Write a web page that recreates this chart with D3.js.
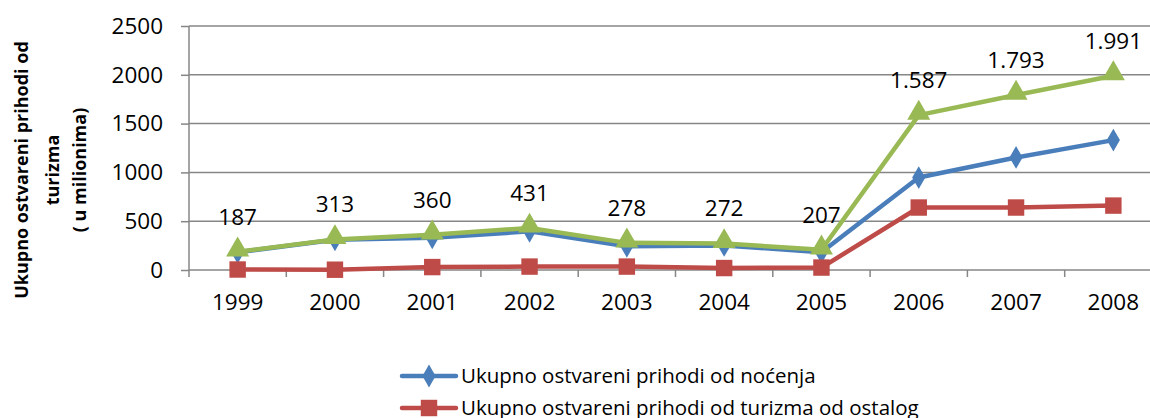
<!DOCTYPE html>
<html>
<head>
<meta charset="utf-8">
<style>
  html, body { margin: 0; padding: 0; background: #fff; overflow: hidden; }
  text { font-family: "Open Sans", "Noto Sans", sans-serif; fill: #000; }
</style>
<script src="https://cdn.jsdelivr.net/npm/d3@7"></script>
</head>
<body>
<script>
var years = ["1999","2000","2001","2002","2003","2004","2005","2006","2007","2008"];
var nocenja = [182, 310, 330, 396, 243, 252, 182, 947, 1153, 1331];
var ostalo  = [5, 3, 30, 35, 35, 20, 25, 640, 640, 660];
var ukupno  = [187, 313, 360, 431, 278, 272, 207, 1587, 1793, 1991];
var yTicks  = [0, 500, 1000, 1500, 2000, 2500];
var legendNames = ["Ukupno ostvareni prihodi od noćenja",
                   "Ukupno ostvareni prihodi od turizma od ostalog"];

var W = 1150, H = 418;
var pLeft = 189, pRight = 1162, pTop = 26, pBottom = 270;

var svg = d3.select("body").append("svg")
  .attr("width", W).attr("height", H);

var x = d3.scaleBand().domain(years).range([pLeft, pRight]);
var y = d3.scaleLinear().domain([0, 2500]).range([pBottom, pTop]);

var grey = "#868686";

// gridlines + y axis
var yAxis = d3.axisLeft(y).tickValues(yTicks).tickFormat(d3.format("d")).tickSize(8).tickPadding(18);
var gy = svg.append("g").attr("transform", "translate(" + pLeft + ",0)").call(yAxis);
gy.select(".domain").remove();
gy.selectAll("line").attr("stroke", grey).attr("stroke-width", 1.5);
gy.selectAll("text").style("font-size", "22.5px").attr("fill", "#000");

svg.append("g").selectAll("line").data(yTicks).enter().append("line")
  .attr("x1", pLeft).attr("x2", pRight)
  .attr("y1", function(d){ return y(d); }).attr("y2", function(d){ return y(d); })
  .attr("stroke", grey).attr("stroke-width", 1.5);

svg.append("line").attr("x1", pLeft).attr("x2", pLeft).attr("y1", pTop).attr("y2", pBottom + 7)
  .attr("stroke", grey).attr("stroke-width", 1.5);

// x axis with tick marks between categories
var gx = svg.append("g").attr("transform", "translate(0," + pBottom + ")")
  .call(d3.axisBottom(x).tickSize(0).tickPadding(24));
gx.select(".domain").remove();
gx.selectAll("text").style("font-size", "22.5px").attr("fill", "#000");
svg.append("g").selectAll("line").data(years.slice(1)).enter().append("line")
  .attr("x1", function(d){ return x(d); }).attr("x2", function(d){ return x(d); })
  .attr("y1", pBottom).attr("y2", pBottom + 7)
  .attr("stroke", grey).attr("stroke-width", 1.5);

// axis title
var title = svg.append("text")
  .attr("transform", "translate(28,170) rotate(-90)")
  .attr("text-anchor", "middle")
  .style("font-size", "18px").style("font-weight", "bold");
title.append("tspan").attr("x", 0).attr("dy", 0).text("Ukupno ostvareni prihodi od");
title.append("tspan").attr("x", 0).attr("dy", 31).text("turizma");
title.append("tspan").attr("x", 0).attr("dy", 27).text("( u milionima)");

var series = [
  { values: nocenja, color: "#4A7EBB", marker: d3.symbolDiamond, size: 150 },
  { values: ostalo,  color: "#BE4B48", marker: d3.symbolSquare,  size: 270 },
  { values: ukupno,  color: "#98B954", marker: d3.symbolTriangle, size: 230 }
];

var line = d3.line()
  .x(function(d, i){ return x(years[i]) + x.bandwidth() / 2; })
  .y(function(d){ return y(d); });

series.forEach(function(s) {
  svg.append("path").attr("d", line(s.values))
    .attr("fill", "none").attr("stroke", s.color).attr("stroke-width", 4.5)
    .attr("stroke-linejoin", "round");
  svg.append("g").selectAll("path").data(s.values).enter().append("path")
    .attr("d", d3.symbol().type(s.marker).size(s.size))
    .attr("transform", function(d, i){
      var dy = s.marker === d3.symbolTriangle ? -2 : 0;
      return "translate(" + (x(years[i]) + x.bandwidth() / 2) + "," + (y(d) + dy) + ")";
    })
    .attr("fill", s.color);
});

// data labels for total
var fmt = d3.formatLocale({ decimal: ",", thousands: ".", grouping: [3], currency: ["", ""] }).format(",d");
svg.append("g").selectAll("text").data(ukupno).enter().append("text")
  .attr("x", function(d, i){ return x(years[i]) + x.bandwidth() / 2; })
  .attr("y", function(d){ return y(d) - 27; })
  .attr("text-anchor", "middle")
  .style("font-size", "22.5px")
  .text(function(d){ return fmt(d); });

// legend
var leg = svg.append("g");
series.slice(0, 2).forEach(function(s, i) {
  var ly = 376 + i * 32;
  leg.append("line").attr("x1", 402).attr("x2", 456).attr("y1", ly).attr("y2", ly)
    .attr("stroke", s.color).attr("stroke-width", 4.5).attr("stroke-linecap", "round");
  leg.append("path").attr("d", d3.symbol().type(s.marker).size(s.size))
    .attr("transform", "translate(429," + ly + ")").attr("fill", s.color);
  leg.append("text").attr("x", 461).attr("y", ly).attr("dy", "0.35em")
    .style("font-size", "20.5px").text(legendNames[i]);
});
</script>
</body>
</html>
